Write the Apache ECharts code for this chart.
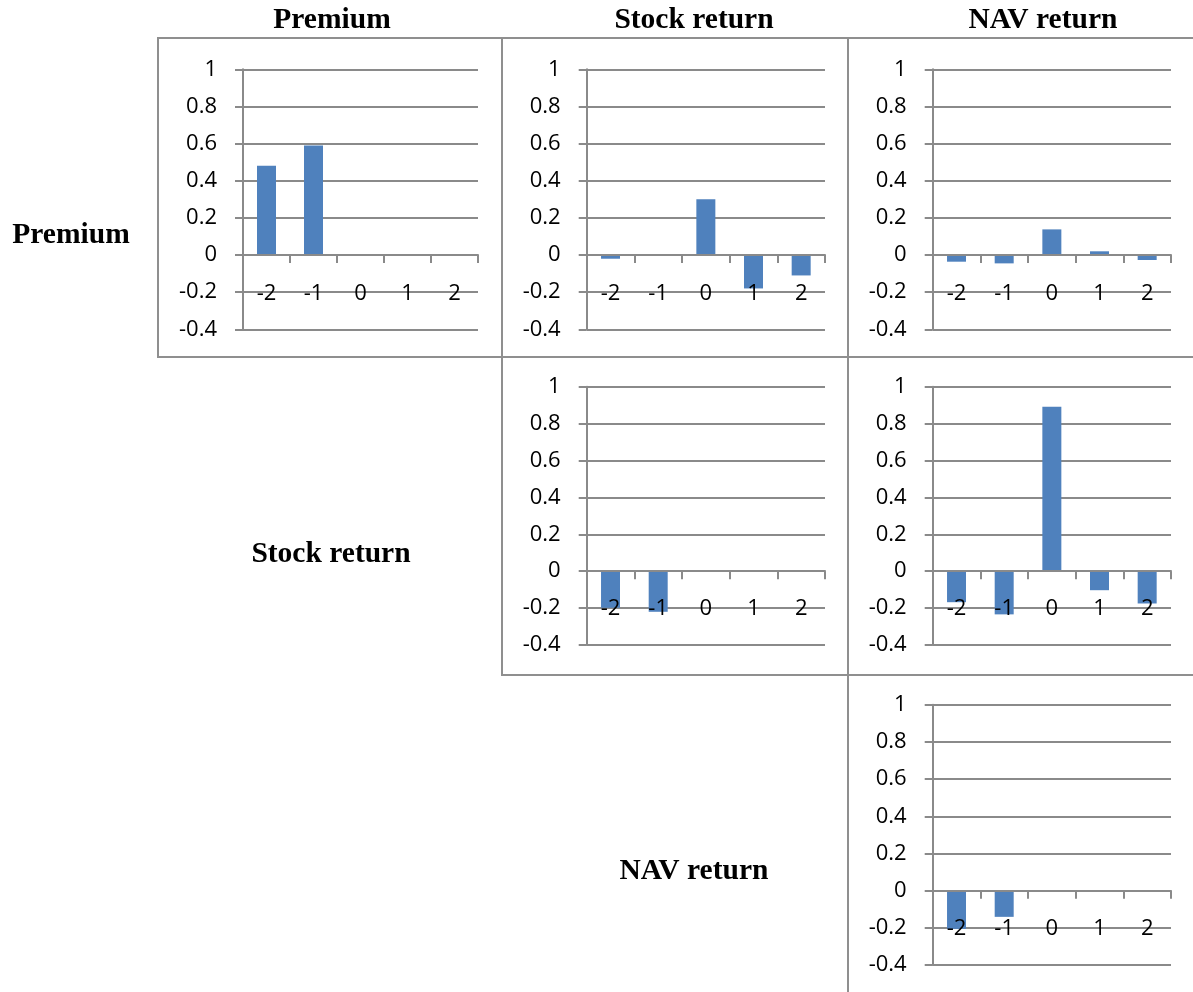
<!DOCTYPE html>
<html>
<head>
<meta charset="utf-8">
<title>Cross-correlations: Premium, Stock return, NAV return</title>
<script src="https://cdn.jsdelivr.net/npm/echarts@6/dist/echarts.min.js"></script>
<style>
  html, body { margin: 0; padding: 0; background: #ffffff; }
  #chart { width: 1193px; height: 992px; }
</style>
</head>
<body>
<div id="chart"></div>
<script>
// Lags shown on every panel
const lags = ['-2', '-1', '0', '1', '2'];

// Y-axis range and step shared by all panels
const yMin = -0.4;
const yMax = 1;
const yStep = 0.2;

// Variable names used as column headers and row labels
const variables = ['Premium', 'Stock return', 'NAV return'];

// Correlation at each lag, one array per (row, column) panel
const premiumVsPremium = [0.48, 0.59, null, null, null];
const premiumVsStock   = [-0.02, 0.00, 0.30, -0.18, -0.11];
const premiumVsNav     = [-0.036, -0.045, 0.138, 0.02, -0.027];
const stockVsStock     = [-0.198, -0.22, null, null, null];
const stockVsNav       = [-0.168, -0.234, 0.892, -0.103, -0.175];
const navVsNav         = [-0.206, -0.141, null, null, null];

// Panel frames (cell boxes) and plot areas inside them
const colX = [158, 502, 848, 1200];
const rowY = [38, 357, 675, 1000];

const panels = [
  { row: 0, col: 0, data: premiumVsPremium, grid: { left: 243, top: 69.3, width: 235, height: 260 } },
  { row: 0, col: 1, data: premiumVsStock,   grid: { left: 586.7, top: 69.3, width: 238.3, height: 260 } },
  { row: 0, col: 2, data: premiumVsNav,     grid: { left: 932.7, top: 69.3, width: 238.3, height: 260 } },
  { row: 1, col: 1, data: stockVsStock,     grid: { left: 586.7, top: 386.7, width: 238.3, height: 258.3 } },
  { row: 1, col: 2, data: stockVsNav,       grid: { left: 932.7, top: 386.7, width: 238.3, height: 258.3 } },
  { row: 2, col: 2, data: navVsNav,         grid: { left: 932.7, top: 704.7, width: 238.3, height: 260.3 } }
];

const axisGray = '#8a8a8a';
const barBlue = '#4f81bd';
const tickFont = { fontFamily: '"Open Sans", "Liberation Sans", sans-serif', fontSize: 22, color: '#000000' };
const headFont = '"Liberation Serif", "DejaVu Serif", serif';

const grids = [];
const xAxes = [];
const yAxes = [];
const series = [];
const graphics = [];

panels.forEach((p, i) => {
  grids.push(Object.assign({ containLabel: false }, p.grid));
  xAxes.push({
    type: 'category',
    gridIndex: i,
    data: lags,
    axisLine: { onZero: true, lineStyle: { color: axisGray, width: 2 } },
    axisTick: { show: true, interval: 0, length: 8, lineStyle: { color: axisGray, width: 2 } },
    // lag labels sit just under the zero line, overlapping the -0.2 gridline
    axisLabel: Object.assign({ interval: 0, margin: -47 }, tickFont),
    splitLine: { show: false },
    z: 5
  });
  yAxes.push({
    type: 'value',
    gridIndex: i,
    min: yMin,
    max: yMax,
    interval: yStep,
    axisLine: { show: true, lineStyle: { color: axisGray, width: 2 } },
    axisTick: { show: true, length: 8, lineStyle: { color: axisGray, width: 2 } },
    axisLabel: Object.assign({
      margin: 26,
      formatter: v => String(Math.round(v * 10) / 10)
    }, tickFont),
    splitLine: { show: true, lineStyle: { color: axisGray, width: 2 } }
  });
  series.push({
    type: 'bar',
    xAxisIndex: i,
    yAxisIndex: i,
    data: p.data,
    barWidth: 19,
    itemStyle: { color: barBlue },
    silent: true,
    animation: false
  });
  // Cell frame around the panel
  graphics.push({
    type: 'rect',
    shape: {
      x: colX[p.col],
      y: rowY[p.row],
      width: colX[p.col + 1] - colX[p.col],
      height: rowY[p.row + 1] - rowY[p.row]
    },
    style: { fill: 'none', stroke: '#8f8f8f', lineWidth: 2 },
    z: 0,
    silent: true
  });
});

// Column headers
const headerPos = [[332, 20], [694, 20], [1043, 20]];
// Row labels placed in the empty cells left of the diagonal
const rowLabelPos = [[71, 235], [331, 554], [694, 871]];

variables.forEach((name, k) => {
  graphics.push({
    type: 'text',
    x: headerPos[k][0],
    y: headerPos[k][1],
    style: {
      text: name,
      font: 'bold 29.5px ' + headFont,
      fill: '#000000',
      align: 'center',
      verticalAlign: 'middle'
    },
    silent: true
  });
  graphics.push({
    type: 'text',
    x: rowLabelPos[k][0],
    y: rowLabelPos[k][1],
    style: {
      text: name,
      font: 'bold 29.5px ' + headFont,
      fill: '#000000',
      align: 'center',
      verticalAlign: 'middle'
    },
    silent: true
  });
});

const chart = echarts.init(document.getElementById('chart'), null, { renderer: 'canvas' });
chart.setOption({
  animation: false,
  backgroundColor: '#ffffff',
  grid: grids,
  xAxis: xAxes,
  yAxis: yAxes,
  series: series,
  graphic: { elements: graphics }
});
</script>
</body>
</html>
